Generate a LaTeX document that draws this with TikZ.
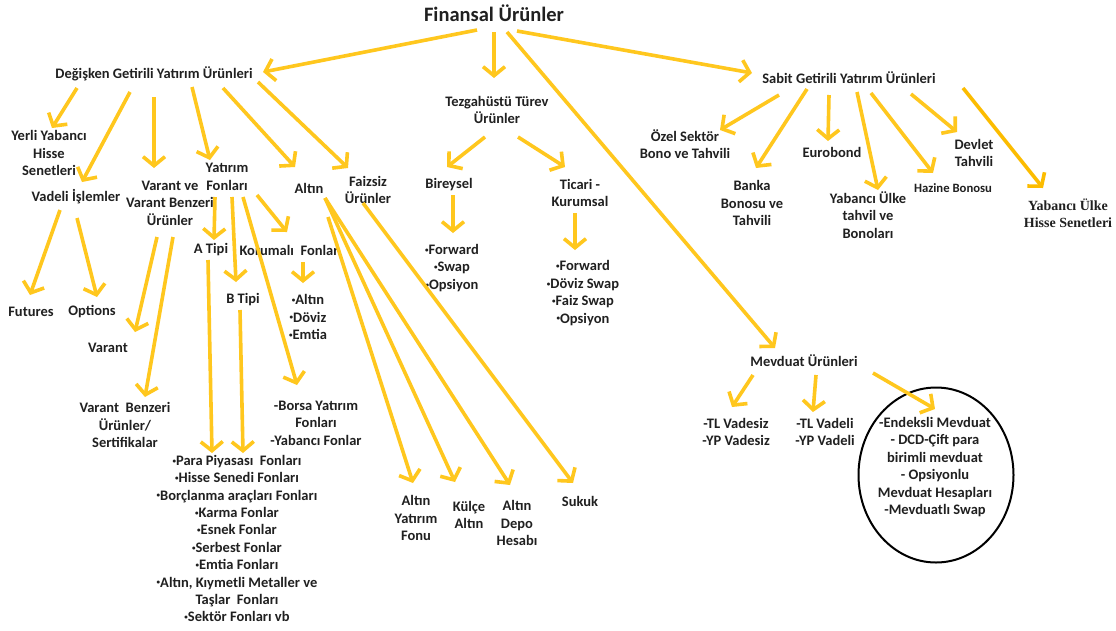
\documentclass[tikz,border=0pt]{standalone}
\usepackage{fontspec}
\setmainfont{Carlito}
\newfontfamily\timesf{Liberation Serif}
\usetikzlibrary{arrows.meta,shapes.geometric}
\definecolor{arrY}{RGB}{255,199,30}
\definecolor{arrO}{RGB}{252,188,0}
\definecolor{txt}{RGB}{32,32,32}
\newcommand\myconn[5][]{\draw[arr,#1] ([shift={(#3)}]#2.center) -- ([shift={(#5)}]#4.center);}
\newcommand\bul{\raisebox{2.2pt}{\fontsize{7}{7}\selectfont •}}
\begin{document}
\begin{tikzpicture}[x=1pt,y=-1pt,
  arr/.style={draw=arrY, line width=3.6pt, -{Straight Barb[length=9pt,width=22pt,line width=3.6pt]}},
  lbl/.style={font=\bfseries\fontsize{14.5}{17.4}\selectfont, text=txt, align=center, inner sep=0pt},
  big/.style={font=\bfseries\fontsize{20.5}{24}\selectfont, text=txt, inner sep=0pt},
  small/.style={font=\bfseries\fontsize{12.7}{15}\selectfont, text=txt, inner sep=0pt},
  tms/.style={font=\timesf\bfseries\fontsize{14}{17}\selectfont, text=txt, align=center, inner sep=0pt}]
\useasboundingbox (0,0) rectangle (1116,630);
\fill[white] (0,0) rectangle (1116,630);
% nodes
\node[big] (fin) at (494,13) {Finansal Ürünler};
\node[lbl] (deg) at (154,74) {Değişken Getirili Yatırım Ürünleri};
\node[lbl] (sab) at (849,78) {Sabit Getirili Yatırım Ürünleri};
\node[lbl] (tez) at (497,110) {Tezgahüstü Türev\\Ürünler};
\node[lbl] (mev) at (804,361) {Mevduat Ürünleri};
\node[lbl] (yerli) at (49,153) {Yerli Yabancı\\Hisse\\Senetleri};
\node[lbl] (vad) at (76,197) {Vadeli İşlemler};
\node[lbl] (var) at (170,203) {Varant ve\\Varant Benzeri\\Ürünler};
\node[lbl] (yf) at (227,177) {Yatırım\\Fonları};
\node[lbl] (alt) at (309,188) {Altın};
\node[lbl] (faiz) at (368,190) {Faizsiz\\Ürünler};
\node[lbl] (fut) at (31,312) {Futures};
\node[lbl] (opt) at (92,312) {Options};
\node[lbl] (varant) at (108,348) {Varant};
\node[lbl] (vbz) at (125,425) {Varant\ \ Benzeri\\Ürünler/\\Sertifikalar};
\node[lbl] (atip) at (211,250) {A Tipi};
\node[lbl] (kor) at (289,250) {Korumalı\ \ Fonlar};
\node[lbl] (btip) at (243,300) {B Tipi};
\node[lbl] (borsa) at (316,423) {-Borsa Yatırım\\Fonları\\-Yabancı Fonlar};
\node[lbl] (ade) at (308,317) {\bul Altın\\\bul Döviz\\\bul Emtia};
\node[lbl] (list) at (237,538.5) {\bul Para Piyasası\ \ Fonları\\\bul Hisse Senedi Fonları\\\bul Borçlanma araçları Fonları\\\bul Karma Fonlar\\\bul Esnek Fonlar\\\bul Serbest Fonlar\\\bul Emtia Fonları\\\bul Altın, Kıymetli Metaller ve\\Taşlar\ \ Fonları\\\bul Sektör Fonları vb};
\node[lbl] (ayf) at (416,518) {Altın\\Yatırım\\Fonu};
\node[lbl] (kulce) at (469,515) {Külçe\\Altın};
\node[lbl] (depo) at (517,523) {Altın\\Depo\\Hesabı};
\node[lbl] (sukuk) at (580,501) {Sukuk};
\node[lbl] (bir) at (449,185) {Bireysel};
\node[lbl] (tic) at (580,193) {Ticari -\\Kurumsal};
\node[lbl] (birl) at (452,268) {\bul Forward\\\bul Swap\\\bul Opsiyon};
\node[lbl] (ticl) at (583,293) {\bul Forward\\\bul Döviz Swap\\\bul Faiz Swap\\\bul Opsiyon};
\node[lbl] (ozel) at (685,144) {Özel Sektör\\Bono ve Tahvili};
\node[lbl] (banka) at (752,203) {Banka\\Bonosu ve\\Tahvili};
\node[lbl] (euro) at (832,152) {Eurobond};
\node[lbl] (ytb) at (868,215) {Yabancı Ülke\\tahvil ve\\Bonoları};
\node[small] (hazine) at (953,188) {Hazine Bonosu};
\node[lbl] (devlet) at (974,153) {Devlet\\Tahvili};
\node[tms] (yhs) at (1068,213) {Yabancı Ülke\\Hisse Senetleri};
\node[lbl] (tlvs) at (736,432) {-TL Vadesiz\\-YP Vadesiz};
\node[lbl] (tlvd) at (825,432) {-TL Vadeli\\-YP Vadeli};
\node[draw=black, line width=2pt, ellipse, minimum width=155pt, minimum height=175pt, inner sep=0pt] (ell) at (936,475) {};
\node[lbl] (ellt) at (935,467) {-Endeksli Mevduat\\- DCD-Çift para\\birimli mevduat\\- Opsiyonlu\\Mevduat Hesapları\\-Mevduatlı Swap};
% connectors
\myconn{fin}{-17,17}{deg}{109,-2}
\myconn{fin}{0,19}{tez}{-3,-32}
\myconn{fin}{13,19}{mev}{-29,-13}
\myconn{fin}{23,18}{sab}{-97,-5}
\myconn{deg}{-77,14}{yerli}{3,-25}
\myconn{deg}{-24,18}{vad}{6,-15}
\myconn{deg}{0,23}{var}{-16,-35}
\myconn{deg}{38,13}{yf}{-17,-17}
\myconn{deg}{69,14}{alt}{-14,-21}
\myconn{deg}{104,8}{faiz}{-20,-22}
\myconn{vad}{-16,13}{fut}{-1,-17}
\myconn{vad}{1,21}{opt}{5,-15}
\myconn{var}{-13,34}{varant}{27,-16}
\myconn{var}{3,34}{vbz}{20,-28}
\myconn{yf}{-12,20}{atip}{3,-10}
\myconn{yf}{30,18}{kor}{-2,-18}
\myconn{yf}{5,20}{btip}{-7,-18}
\myconn{yf}{16,20}{borsa}{-19,-38}
\myconn{kor}{14,12}{ade}{-5,-34}
\myconn{atip}{-3,10}{list}{-25,-85.5}
\myconn{btip}{-3,10}{list}{6,-85.5}
\myconn{alt}{19,29}{ayf}{-3,-35}
\myconn{alt}{16,10}{kulce}{-14,-33}
\myconn{alt}{16,10}{depo}{-7,-38}
\myconn{faiz}{-5,13}{sukuk}{-7,-18}
\myconn{tez}{-12,27}{bir}{-2,-18}
\myconn{tez}{21,27}{tic}{-15,-26}
\myconn{bir}{4,10}{birl}{1,-35}
\myconn{tic}{-5,20}{ticl}{-8,-43}
\myconn{sab}{-70,17}{ozel}{35,-14}
\myconn{sab}{-42,11}{banka}{4,-35}
\myconn{sab}{-20,17}{euro}{-4,-11}
\myconn{sab}{8,14}{ytb}{10,-25}
\myconn{sab}{22,15}{hazine}{-20,-15}
\myconn{sab}{62,16}{devlet}{-17,-21}
\myconn[draw=arrO]{sab}{114,10}{yhs}{-25,-25}
\myconn{mev}{-51,14}{tlvs}{-4,-25}
\myconn{mev}{12,14}{tlvd}{-12,-20}
\myconn{mev}{69,12}{ell}{-1,-66}
\end{tikzpicture}
\end{document}
